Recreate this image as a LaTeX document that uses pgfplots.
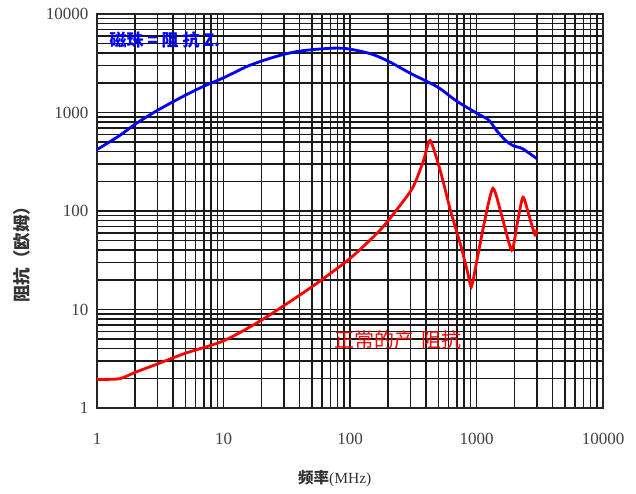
\documentclass[border=0pt]{standalone}
\usepackage{fontspec}
\setmainfont{Liberation Serif}
\newfontfamily\cjk{Noto Sans CJK SC}
\usepackage{pgfplots}
\pgfplotsset{compat=1.18}
\begin{document}
\begin{tikzpicture}[x=1pt,y=1pt]
\path (0,0) rectangle (636,493);
\begin{axis}[
  at={(97pt,85pt)}, anchor=south west,
  scale only axis, width=506pt, height=394pt,
  xmode=log, ymode=log,
  xmin=1, xmax=10000, ymin=1, ymax=10000,
  xtick={1,10,100,1000,10000},
  xticklabels={1,10,100,1000,10000},
  ytick={1,10,100,1000,10000},
  yticklabels={1,10,100,1000,10000},
  minor xtick={2,3,4,5,6,7,8,9,20,30,40,50,60,70,80,90,200,300,400,500,600,700,800,900,2000,3000,4000,5000,6000,7000,8000,9000},
  minor ytick={2,3,4,5,6,7,8,9,20,30,40,50,60,70,80,90,200,300,400,500,600,700,800,900,2000,3000,4000,5000,6000,7000,8000,9000},
  grid=both,
  major grid style={black!90, line width=1.5pt},
  minor grid style={black!90, line width=1.5pt},
  axis line style={black!85, line width=1.2pt},
  tick style={draw=none},
  ticklabel style={font=\fontsize{17}{19}\selectfont, text=black!75},
  xticklabel style={yshift=-22pt},
  yticklabel style={xshift=-5pt},
  xlabel={\cjk\bfseries 频率\textnormal{\rmfamily(MHz)}},
  ylabel={\cjk\bfseries 阻抗（欧姆）},
  xlabel style={at={(axis description cs:0.47,-0.178)}, anchor=center, font=\fontsize{15.5}{17}\selectfont, text=black!80},
  ylabel style={at={(axis description cs:-0.148,0.40)}, anchor=center, font=\fontsize{17.5}{19}\selectfont, text=black!80},
  clip=false,
]
\addplot[blue, line width=2.8pt, smooth] coordinates {
 (1,420) (1.5,580) (2,760) (3,1050) (5,1500) (7,1850) (10,2250) (16,3000) (26,3700)
 (40,4200) (73,4500) (100,4400) (150,3900) (207,3250) (300,2500) (490,1820)
 (700,1300) (1070,940) (1250,840) (1450,650) (1700,520) (1950,460) (2300,430) (3000,340)
};
\addplot[red, line width=2.8pt, smooth, tension=0.4] coordinates {
 (1,1.95) (1.5,1.98) (2,2.3) (3,2.8) (5,3.6) (10,4.8) (20,7.8) (50,17) (100,33)
 (173,64) (250,115) (315,175) (380,320) (430,520) (520,250) (624,100) (750,45)
 (850,24) (910,17) (1000,30) (1150,75) (1350,170) (1600,85) (1900,40) (2100,75)
 (2330,138) (2600,90) (2900,57) (3000,65)
};
\node[text=blue, font=\cjk\bfseries\fontsize{17}{19}\selectfont] at (axis description cs:0.134,0.934) {磁珠 = 阻 抗 Z.};
\node[text=red, font=\cjk\fontsize{20}{22}\selectfont] at (axis description cs:0.595,0.173) {正常的产 \,阻抗};
\end{axis}
\end{tikzpicture}
\end{document}
